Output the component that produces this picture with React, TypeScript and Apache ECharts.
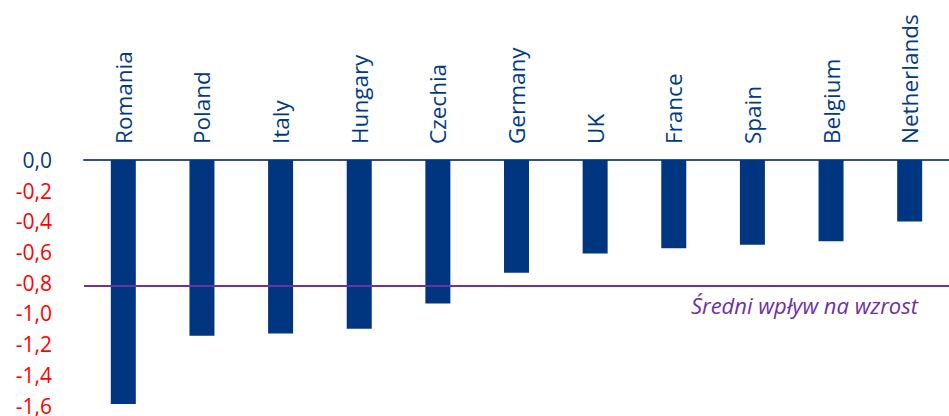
import React, { useEffect, useRef } from "react";
import * as echarts from "echarts";

const countries = ["Romania", "Poland", "Italy", "Hungary", "Czechia", "Germany", "UK", "France", "Spain", "Belgium", "Netherlands"];
const impact = [-1.59, -1.145, -1.13, -1.1, -0.935, -0.735, -0.61, -0.575, -0.553, -0.53, -0.4];
const averageImpact = -0.82;
const averageLabel = "Średni wpływ na wzrost";

export default function App() {
  const ref = useRef<HTMLDivElement>(null);
  useEffect(() => {
    document.body.style.margin = "0";
    const chart = echarts.init(ref.current!, null, { renderer: "svg" });
    chart.setOption({
      animation: false,
      grid: { left: 84, top: 160, width: 877, height: 246, containLabel: false },
      xAxis: {
        type: "category",
        position: "top",
        data: countries,
        axisLine: { show: true, onZero: false, lineStyle: { color: "#2E4F96", width: 2 } },
        axisTick: { show: false },
        axisLabel: {
          rotate: -90,
          margin: 16,
          interval: 0,
          color: "#003A84",
          fontFamily: "Open Sans",
          fontSize: 22.5,
        },
      },
      yAxis: {
        type: "value",
        min: -1.6,
        max: 0,
        interval: 0.2,
        axisLine: { show: false },
        axisTick: { show: false },
        splitLine: { show: false },
        axisLabel: {
          margin: 32,
          fontFamily: "Open Sans",
          fontSize: 21,
          formatter: (v: number) => v.toFixed(1).replace(".", ","),
          color: (v: any) => (Math.abs(Number(v)) < 1e-9 ? "#003A84" : "#FF0000"),
        },
      },
      series: [
        {
          type: "bar",
          data: impact,
          barWidth: 25,
          itemStyle: { color: "#00367F" },
          markLine: {
            silent: true,
            symbol: ["none", "none"],
            label: { show: false },
            lineStyle: { color: "#7030A0", width: 2, type: "solid" },
            data: [{ yAxis: averageImpact }],
          },
        },
      ],
      graphic: [
        {
          type: "text",
          x: 918,
          y: 305,
          style: {
            text: averageLabel,
            fill: "#7030A0",
            font: "italic 22px 'Open Sans'",
            textAlign: "right",
            textVerticalAlign: "middle",
          },
        },
      ],
    });
    return () => chart.dispose();
  }, []);
  return <div ref={ref} style={{ width: 949, height: 416 }} />;
}
